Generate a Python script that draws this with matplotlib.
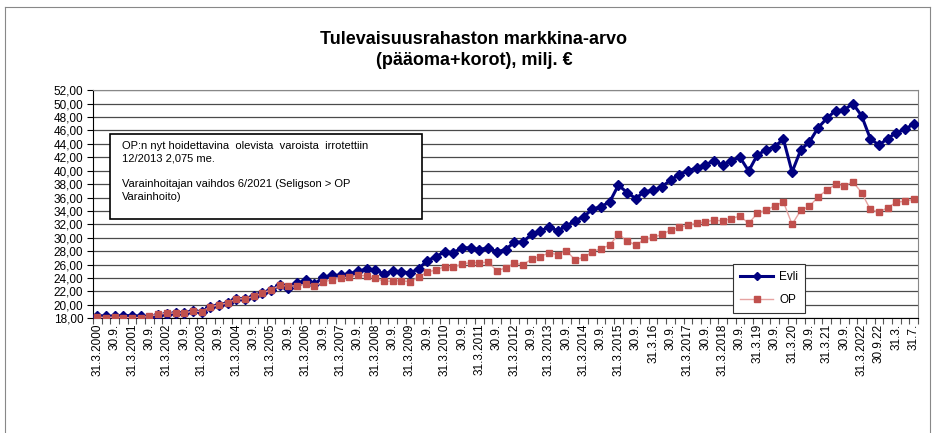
import matplotlib
matplotlib.use("Agg")
import matplotlib.pyplot as plt
from matplotlib.patches import Rectangle
from matplotlib.lines import Line2D

plt.rcParams['font.family'] = ['Liberation Sans', 'DejaVu Sans']

title = "Tulevaisuusrahaston markkina-arvo\n(pääoma+korot), milj. €"

evli = [18.4, 18.3, 18.3, 18.4, 18.4, 18.3, 18.1, 18.5, 18.7, 18.8,
        18.8, 19.1, 19.0, 19.7, 20.0, 20.3, 20.9, 20.9, 21.25, 21.75,
        22.25, 22.9, 22.5, 23.25, 23.65, 23.1, 24.1, 24.4, 24.4, 24.65,
        25.0, 25.35, 25.2, 24.6, 25.05, 24.95, 24.75, 25.4, 26.6, 27.2,
        27.9, 27.8, 28.5, 28.5, 28.25, 28.5, 27.9, 28.25, 29.3, 29.4,
        30.5, 31.0, 31.6, 31.05, 31.75, 32.55, 33.15, 34.25, 34.65, 35.35,
        37.85, 36.75, 35.85, 36.9, 37.05, 37.6, 38.6, 39.4, 40.0, 40.4,
        40.9, 41.45, 40.85, 41.5, 42.0, 39.95, 42.35, 43.1, 43.6, 44.7,
        39.8, 43.1, 44.3, 46.4, 47.8, 48.95, 49.05, 50.0, 48.2, 44.8,
        43.8, 44.8, 45.65, 46.2, 46.95]

op = [18.2, 18.1, 18.2, 18.1, 18.1, 18.1, 18.3, 18.6, 18.75, 18.8,
      18.75, 19.1, 19.0, 19.7, 20.0, 20.3, 20.9, 20.9, 21.25, 21.75,
      22.25, 22.9, 22.8, 22.85, 23.1, 22.85, 23.4, 23.75, 24.0, 24.15,
      24.45, 24.3, 24.0, 23.5, 23.55, 23.6, 23.45, 24.15, 24.9, 25.2,
      25.7, 25.6, 26.1, 26.3, 26.3, 26.35, 25.1, 25.5, 26.2, 26.0,
      26.8, 27.2, 27.75, 27.5, 28.1, 26.7, 27.1, 27.9, 28.4, 28.9,
      30.55, 29.55, 28.9, 29.75, 30.05, 30.5, 31.15, 31.55, 31.9, 32.15,
      32.35, 32.65, 32.5, 32.85, 33.25, 32.15, 33.65, 34.1, 34.75, 35.35,
      32.0, 34.1, 34.7, 36.1, 37.1, 37.95, 37.75, 38.35, 36.75, 34.25,
      33.8, 34.5, 35.3, 35.45, 35.75]

tick_labels = []
for yr in range(2000, 2016):
    tick_labels += ["31.3.%d" % yr, "30.9."]
tick_labels += ["31.3.16", "30.9.", "31.3.2017", "30.9.", "31.3.2018", "30.9.",
                "31.3.19", "30.9.", "31.3.20", "30.9.", "31.3.21", "30.9.",
                "31.3.2022", "30.9.22", "31.3.", "31.7."]

y_ticks = list(range(18, 53, 2))

note = ("OP:n nyt hoidettavina  olevista  varoista  irrotettiin\n"
        "12/2013 2,075 me.\n\n"
        "Varainhoitajan vaihdos 6/2021 (Seligson > OP\n"
        "Varainhoito)")

fig = plt.figure(figsize=(9.48, 4.33), dpi=100)
ax = fig.add_axes([93/948, 1-318.3/433, 825/948, 228.1/433])

x = list(range(len(evli)))
ax.plot(x, evli, color='#000080', lw=2.2, marker='D', ms=5, mfc='#000080',
        mec='#000080', zorder=4, label='Evli')
ax.plot(x, op, color='#E6A3A1', lw=1.0, marker='s', ms=5, mfc='#C0504D',
        mec='#C0504D', zorder=5, label='OP')

ax.set_xlim(-0.5, len(evli) - 0.5)
ax.set_ylim(18, 52)
ax.set_yticks(y_ticks)
ax.set_yticklabels(["%d,00" % v for v in y_ticks], fontsize=8.5)
ax.yaxis.grid(True, color='#4a4a4a', lw=0.9)
ax.set_axisbelow(True)

ax.set_xticks(list(range(0, len(evli), 2)))
ax.set_xticklabels(tick_labels, rotation=90, fontsize=8.5)
ax.set_xticks([i + 0.5 for i in range(-1, len(evli))], minor=True)
ax.tick_params(axis='x', which='major', length=0, pad=4)
ax.tick_params(axis='x', which='minor', length=4, width=0.8, color='#555555')
ax.tick_params(axis='y', length=4, width=0.8, pad=3)

for s in ['top', 'right']:
    ax.spines[s].set_color('#888888')
ax.spines['left'].set_color('#000000')
ax.spines['bottom'].set_color('#000000')

# annotation box
ax.add_patch(Rectangle((17/825, (318.3-219)/228.1), (422-110)/825, (219-134)/228.1,
                       transform=ax.transAxes, facecolor='white', edgecolor='black',
                       lw=1.2, zorder=3))
ax.text((121.7-93)/825, (318.3-141)/228.1, note, transform=ax.transAxes,
        fontsize=8, va='top', ha='left', linespacing=1.35, zorder=6)

leg = ax.legend(loc='lower left', bbox_to_anchor=(0.776, 0.023), fontsize=8.5,
                fancybox=False, edgecolor='#333333', framealpha=1,
                handlelength=2.8, borderpad=0.6, labelspacing=0.9,
                borderaxespad=0, handletextpad=0.5, markerscale=0.9)
leg.get_frame().set_linewidth(0.8)
leg.set_zorder(7)

fig.text(0.5, 1 - 50/433, title, ha='center', va='center', fontsize=13,
         fontweight='bold', linespacing=1.3)

# outer chart border
fig.add_artist(Line2D([5/948, 930/948], [1-7/433, 1-7/433], transform=fig.transFigure,
                      color='#888888', lw=0.8))
fig.add_artist(Line2D([930/948, 930/948], [0, 1-7/433], transform=fig.transFigure,
                      color='#888888', lw=0.8))
fig.add_artist(Line2D([5/948, 5/948], [0, 1-7/433], transform=fig.transFigure,
                      color='#888888', lw=0.8))

fig.savefig("out.png", dpi=100)
